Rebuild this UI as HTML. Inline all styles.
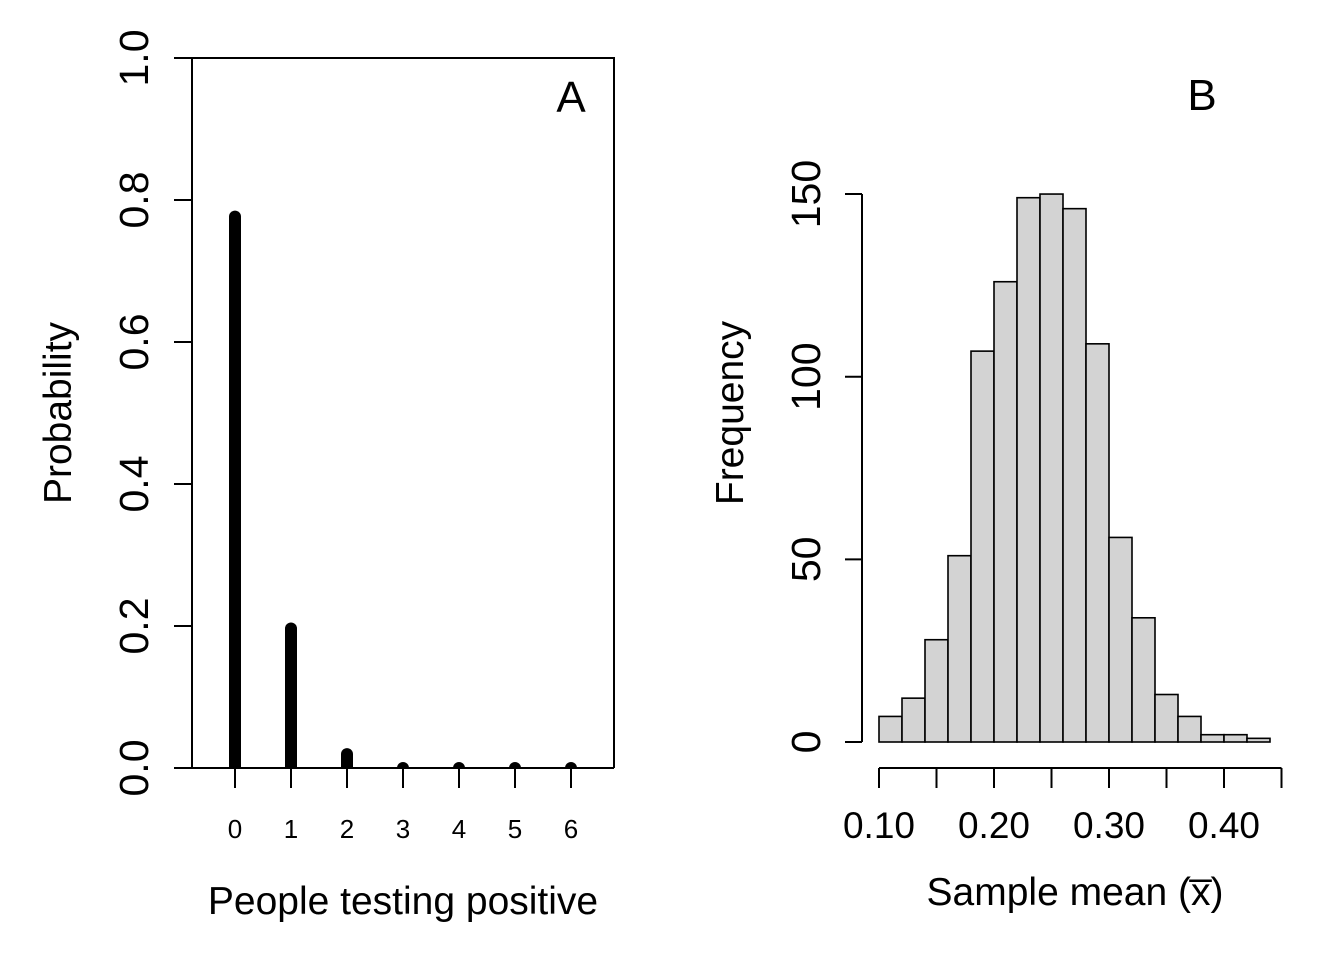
<!DOCTYPE html>
<html><head><meta charset="utf-8"><style>
html,body{margin:0;padding:0;background:#fff}
svg{display:block;font-family:"Liberation Sans",Arial,sans-serif}
</style></head><body>
<svg id="c" width="1344" height="960" viewBox="0 0 1344 960">
<rect width="1344" height="960" fill="#fff"/>
<g id="A"></g>
<g id="B"></g>
</svg>
<script>
const countsA = [0,1,2,3,4,5,6];
const probsA = [0.785,0.205,0.028,0.002,0.0001,0.00001,0.000001];
const yTicksA = [0,0.2,0.4,0.6,0.8,1.0];
const yTickLabelsA = ["0.0","0.2","0.4","0.6","0.8","1.0"];
const binStartsB = [0.10,0.12,0.14,0.16,0.18,0.20,0.22,0.24,0.26,0.28,0.30,0.32,0.34,0.36,0.38,0.40,0.42];
const freqB = [7,12,28,51,107,126,149,150,146,109,56,34,13,7,2,2,1];
const binWidthB = 0.02;
const xTicksB = [0.10,0.15,0.20,0.25,0.30,0.35,0.40,0.45];
const xTickLabelsB = ["0.10","0.20","0.30","0.40"];
const xLabelValsB = [0.10,0.20,0.30,0.40];
const yTicksB = [0,50,100,150];

const NS="http://www.w3.org/2000/svg";
function mk(p,t,a,txt){const e=document.createElementNS(NS,t);for(const k in a)e.setAttribute(k,a[k]);if(txt!==undefined)e.textContent=txt;p.appendChild(e);return e;}

// Panel A
const A=document.getElementById('A');
const xA=v=>235+v*56, yA=v=>768-v*710;
let e;
e=mk(A,'path',{d:"M192 768 V58 H614 V768",fill:"none",stroke:"#000","stroke-width":2});

e=mk(A,'line',{x1:174,y1:768,x2:614,y2:768,stroke:"#000","stroke-width":2});

yTicksA.forEach((v,i)=>{
  e=mk(A,'line',{x1:174,x2:192,y1:yA(v),y2:yA(v),stroke:"#000","stroke-width":2});
  
  e=mk(A,'text',{x:0,y:0,"font-size":41,"text-anchor":"middle",transform:`translate(148 ${yA(v)}) rotate(-90)`},yTickLabelsA[i]);
  
});
countsA.forEach((c,i)=>{
  e=mk(A,'line',{x1:xA(c),x2:xA(c),y1:768,y2:788,stroke:"#000","stroke-width":2});
  
  e=mk(A,'text',{x:xA(c),y:838,"font-size":26,"text-anchor":"middle"},String(c));
  
  const top=yA(probsA[i]);
  e=mk(A,'path',{d:`M${xA(c)-6} 768 V${Math.min(top+6,768)} A6 6 0 0 1 ${xA(c)+6} ${Math.min(top+6,768)} V768 Z`,fill:"#000"});
  
});
e=mk(A,'text',{x:403,y:914,"font-size":39,"text-anchor":"middle"},"People testing positive");

e=mk(A,'text',{x:0,y:0,"font-size":39,"text-anchor":"middle",transform:"translate(71 413) rotate(-90)"},"Probability");

e=mk(A,'text',{x:571,y:112,"font-size":44,"text-anchor":"middle"},"A");


// Panel B
const B=document.getElementById('B');
const xB=v=>879+(v-0.10)*1150, yB=v=>742-v*3.653;
binStartsB.forEach((s,i)=>{
  e=mk(B,'rect',{x:xB(s),y:yB(freqB[i]),width:binWidthB*1150,height:742-yB(freqB[i]),fill:"#d3d3d3",stroke:"#000","stroke-width":1.6});
  
});
e=mk(B,'line',{x1:xB(xTicksB[0]),x2:xB(xTicksB[xTicksB.length-1]),y1:768,y2:768,stroke:"#000","stroke-width":2});

xTicksB.forEach(v=>{
  e=mk(B,'line',{x1:xB(v),x2:xB(v),y1:768,y2:788,stroke:"#000","stroke-width":2});
  
});
xLabelValsB.forEach((v,i)=>{
  e=mk(B,'text',{x:xB(v),y:838,"font-size":37,"text-anchor":"middle"},xTickLabelsB[i]);
  
});
e=mk(B,'line',{x1:862,x2:862,y1:yB(0),y2:yB(150),stroke:"#000","stroke-width":2});

yTicksB.forEach(v=>{
  e=mk(B,'line',{x1:845,x2:862,y1:yB(v),y2:yB(v),stroke:"#000","stroke-width":2});
  
  e=mk(B,'text',{x:0,y:0,"font-size":41,"text-anchor":"middle",transform:`translate(820 ${yB(v)}) rotate(-90)`},String(v));
  
});
e=mk(B,'text',{x:1075,y:905,"font-size":39,"text-anchor":"middle"},"Sample mean (x\u0305)");

e=mk(B,'text',{x:0,y:0,"font-size":39,"text-anchor":"middle",transform:"translate(743 413) rotate(-90)"},"Frequency");

e=mk(B,'text',{x:1202,y:110,"font-size":44,"text-anchor":"middle"},"B");

</script>
</body></html>
